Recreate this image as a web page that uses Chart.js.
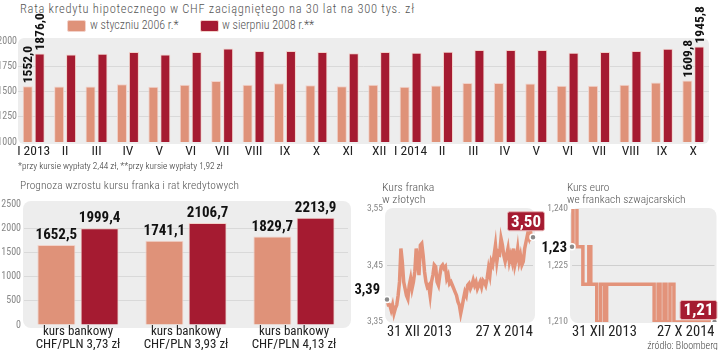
<!DOCTYPE html>
<html lang="pl">
<head>
<meta charset="UTF-8">
<title>Rata kredytu w CHF</title>
<script src="https://cdn.jsdelivr.net/npm/chart.js"></script>
<style>
  body { margin: 0; width: 720px; height: 350px; background: #fff; position: relative; overflow: hidden;
         font-family: "Roboto Condensed", "Roboto", sans-serif; font-weight: 300; }
  canvas { position: absolute; }
  .txt { position: absolute; white-space: nowrap; color: #555; line-height: 13px; }
  .leg { position: absolute; width: 17px; height: 10px; border: 1px solid #f2d2ca; border-radius: 2px; }
</style>
</head>
<body>

<div class="txt" style="left:20px; top:2px; font-size:12.5px; letter-spacing:0.7px;">Rata kredytu hipotecznego w CHF zaciągniętego na 30 lat na 300 tys. zł</div>
<div id="legenda"></div>
<canvas id="rataChart" width="720" height="162" style="left:0; top:0;"></canvas>
<div class="txt" style="left:18px; top:159px; font-size:9.3px; color:#333;">*przy kursie wypłaty 2,44 zł, **przy kursie wypłaty 1,92 zł</div>

<div class="txt" style="left:20px; top:179px; font-size:11.4px; letter-spacing:0.1px;">Prognoza wzrostu kursu franka i rat kredytowych</div>
<canvas id="prognozaChart" width="355" height="155" style="left:0; top:195px;"></canvas>

<canvas id="frankChart" width="195" height="145" style="left:350px; top:195px;"></canvas>
<div class="txt" style="left:382px; top:181px; font-size:11.8px; line-height:12px;">Kurs franka<br>w złotych</div>

<canvas id="euroChart" width="180" height="145" style="left:540px; top:195px;"></canvas>
<div class="txt" style="left:567px; top:181px; font-size:11.4px; line-height:12px;">Kurs euro<br>we frankach szwajcarskich</div>
<div class="txt" style="right:2px; top:339px; font-size:10px; color:#444;">źródło: Bloomberg</div>

<script>
    // Rata miesięczna (zł) dla kredytu zaciągniętego w dwóch momentach
    const miesiace = ['I 2013', 'II', 'III', 'IV', 'V', 'VI', 'VII', 'VIII', 'IX', 'X', 'XI', 'XII',
                      'I 2014', 'II', 'III', 'IV', 'V', 'VI', 'VII', 'VIII', 'IX', 'X'];
    const rata2006 = [1552.0, 1549, 1550, 1573, 1546, 1566, 1605, 1567, 1582, 1563, 1551,
                      1566, 1546, 1560, 1585, 1585, 1578, 1557, 1557, 1566, 1588, 1609.8];
    const rata2008 = [1876.0, 1866, 1874, 1890, 1867, 1890, 1926, 1900, 1902, 1890, 1878,
                      1892, 1884, 1893, 1910, 1911, 1910, 1884, 1890, 1900, 1924, 1945.8];
    const serie = ['w styczniu 2006 r.*', 'w sierpniu 2008 r.**'];
    const rataTicks = [1000, 1250, 1500, 1750, 2000];

    // Prognoza
    const kursy = [['kurs bankowy', 'CHF/PLN 3,73 zł'], ['kurs bankowy', 'CHF/PLN 3,93 zł'], ['kurs bankowy', 'CHF/PLN 4,13 zł']];
    const prognoza2006 = [1652.5, 1741.1, 1829.7];
    const prognoza2008 = [1999.4, 2106.7, 2213.9];

    // Kurs franka w złotych (31 XII 2013 - 27 X 2014)
    const frankDaty = ['31 XII 2013', '27 X 2014'];
    const frankTicks = [3.35, 3.45, 3.55];
    const kursFranka = [
        3.390, 3.380, 3.380, 3.371, 3.380, 3.365, 3.374, 3.380, 3.397, 3.421,
        3.480, 3.457, 3.421, 3.409, 3.397, 3.391, 3.415, 3.427, 3.409, 3.421,
        3.439, 3.480, 3.457, 3.433, 3.486, 3.489, 3.468, 3.439, 3.421, 3.412,
        3.415, 3.397, 3.421, 3.433, 3.451, 3.448, 3.421, 3.415, 3.433, 3.448,
        3.451, 3.445, 3.448, 3.427, 3.433, 3.418, 3.421, 3.415, 3.409, 3.403,
        3.397, 3.386, 3.380, 3.365, 3.377, 3.391, 3.403, 3.397, 3.415, 3.418,
        3.409, 3.415, 3.424, 3.415, 3.421, 3.409, 3.415, 3.421, 3.412, 3.424,
        3.421, 3.415, 3.427, 3.445, 3.433, 3.457, 3.451, 3.468, 3.486, 3.457,
        3.474, 3.471, 3.498, 3.486, 3.468, 3.457, 3.468, 3.480, 3.457, 3.468,
        3.457, 3.480, 3.451, 3.462, 3.480, 3.457, 3.468, 3.451, 3.457, 3.480,
        3.492, 3.504, 3.498, 3.513, 3.498, 3.500
    ];

    // Kurs euro we frankach szwajcarskich
    const euroDaty = ['31 XII 2013', '27 X 2014'];
    const euroTicks = [1.21, 1.225, 1.24];
    const kursEuro = [
        1.23, 1.25, 1.25, 1.23, 1.23, 1.23, 1.22, 1.22, 1.22, 1.23,
        1.22, 1.22, 1.22, 1.21, 1.21, 1.22, 1.22, 1.21, 1.22, 1.22,
        1.22, 1.22, 1.22, 1.22, 1.22, 1.22, 1.22, 1.22, 1.22, 1.22,
        1.22, 1.22, 1.22, 1.22, 1.22, 1.22, 1.22, 1.22, 1.22, 1.22,
        1.22, 1.22, 1.21, 1.21, 1.22, 1.21, 1.21, 1.22, 1.21, 1.21,
        1.22, 1.22, 1.21, 1.21, 1.21, 1.21, 1.21, 1.21, 1.21, 1.21,
        1.21, 1.21, 1.21, 1.21, 1.21, 1.21, 1.21, 1.21, 1.21, 1.21,
        1.21, 1.21, 1.21
    ];

    const FONT = '"Roboto Condensed", "Roboto", sans-serif';
    const JASNY = '#df9279';
    const CIEMNY = '#a51b31';
    const OBRYS = '#f2d2ca';
    Chart.defaults.font.family = FONT;
    Chart.defaults.animation = false;

    const fmt = (v, d) => v.toFixed(d).replace('.', ',');

    // legenda w HTML
    const leg = document.getElementById('legenda');
    [[67, 90, JASNY], [200, 222, CIEMNY]].forEach((p, i) => {
        leg.innerHTML += `<div class="leg" style="left:${p[0]}px; top:20px; background:${p[2]}"></div>` +
            `<div class="txt" style="left:${p[1]}px; top:18px; font-size:12px; line-height:15px;">${serie[i]}</div>`;
    });

    // szare tło pod wykresem
    const tlo = {
        id: 'tlo',
        beforeDraw(chart, args, o) {
            const a = chart.chartArea, c = chart.ctx, p = o.pad;
            c.save();
            c.fillStyle = '#ededed';
            c.beginPath();
            c.roundRect(a.left - p[3], a.top - p[0], a.width + p[1] + p[3], a.height + p[0] + p[2], o.r);
            c.fill();
            c.restore();
        }
    };

    // pionowe etykiety nad pierwszym i ostatnim miesiącem
    const pionowe = {
        id: 'pionowe',
        afterDatasetsDraw(chart) {
            const c = chart.ctx;
            chart.data.datasets.forEach((ds, i) => {
                const meta = chart.getDatasetMeta(i);
                [0, ds.data.length - 1].forEach(j => {
                    const bar = meta.data[j];
                    c.save();
                    c.translate(bar.x, bar.y - 3);
                    c.rotate(-Math.PI / 2);
                    c.font = 'bold 13.5px ' + FONT;
                    c.fillStyle = '#111';
                    c.textAlign = 'left';
                    c.textBaseline = 'middle';
                    c.fillText(fmt(ds.data[j], 1), 0, 1);
                    c.restore();
                });
            });
        }
    };

    // poziome etykiety nad słupkami prognozy
    const poziome = {
        id: 'poziome',
        afterDatasetsDraw(chart) {
            const c = chart.ctx;
            c.save();
            c.font = 'bold 15px ' + FONT;
            c.fillStyle = '#111';
            c.textAlign = 'center';
            c.textBaseline = 'bottom';
            chart.data.datasets.forEach((ds, i) => {
                chart.getDatasetMeta(i).data.forEach((bar, j) => {
                    c.fillText(fmt(ds.data[j], 1), bar.x, bar.y - 2);
                });
            });
            c.restore();
        }
    };

    // wartość początkowa i końcowa kursu
    const skrajne = {
        id: 'skrajne',
        afterDatasetsDraw(chart, args, o) {
            const c = chart.ctx;
            const ds = chart.data.datasets[0];
            const pts = chart.getDatasetMeta(0).data;
            const first = pts[0], last = pts[pts.length - 1];
            c.save();
            c.font = 'bold 14.5px ' + FONT;
            c.fillStyle = '#111';
            c.textAlign = 'right';
            c.textBaseline = 'middle';
            c.fillText(fmt(ds.data[0], 2), first.x - o.startDx, first.y + o.startDy);
            c.font = 'bold 17px ' + FONT;
            const txt = fmt(ds.data[ds.data.length - 1], 2);
            const w = c.measureText(txt).width + 7, h = 19;
            const bx = last.x + o.endDx - w / 2, by = last.y + o.endDy - h / 2;
            c.fillStyle = CIEMNY;
            c.strokeStyle = '#e8b5b5';
            c.lineWidth = 1;
            c.beginPath();
            c.roundRect(bx, by, w, h, 2);
            c.fill();
            c.stroke();
            c.fillStyle = '#fff';
            c.textAlign = 'center';
            c.fillText(txt, bx + w / 2, by + h / 2 + 1);
            c.restore();
        }
    };

    const słupki = (data, kolor) => ({
        data: data,
        backgroundColor: kolor,
        borderColor: OBRYS,
        borderWidth: 1
    });

    // Wykres 1: rata miesięczna
    new Chart(document.getElementById('rataChart'), {
        type: 'bar',
        data: {
            labels: miesiace,
            datasets: [
                Object.assign(słupki(rata2006, JASNY), { label: serie[0] }),
                Object.assign(słupki(rata2008, CIEMNY), { label: serie[1] })
            ]
        },
        options: {
            responsive: false,
            layout: { padding: { top: 41, right: 11, left: 0, bottom: 0 } },
            datasets: { bar: { categoryPercentage: 0.76, barPercentage: 0.84 } },
            scales: {
                x: {
                    afterFit: s => { s.height = 20; },
                    grid: { display: false, drawTicks: false },
                    border: { display: false },
                    ticks: { color: '#222', font: { size: 13.5, lineHeight: 1 }, padding: 3, maxRotation: 0, autoSkip: false }
                },
                y: {
                    min: 1000, max: 2000,
                    afterFit: s => { s.width = 18; },
                    afterBuildTicks: s => { s.ticks = rataTicks.map(v => ({ value: v })); },
                    grid: { color: ctx => (ctx.tick.value === 1000 || ctx.tick.value === 2000) ? 'transparent' : '#d9d9d9', drawTicks: false },
                    border: { display: false },
                    ticks: { color: '#888', font: { size: 10 }, padding: 1, callback: v => String(v) }
                }
            },
            plugins: {
                legend: { display: false },
                tooltip: { enabled: false },
                tlo: { pad: [3, 0, 2, 0], r: 6 }
            }
        },
        plugins: [tlo, pionowe]
    });

    // Wykres 2: prognoza
    new Chart(document.getElementById('prognozaChart'), {
        type: 'bar',
        data: {
            labels: kursy,
            datasets: [słupki(prognoza2006, JASNY), słupki(prognoza2008, CIEMNY)]
        },
        options: {
            responsive: false,
            layout: { padding: { top: 7, right: 7, left: 0, bottom: 0 } },
            datasets: { bar: { categoryPercentage: 0.80, barPercentage: 0.88 } },
            scales: {
                x: {
                    afterFit: s => { s.height = 25; },
                    grid: { display: false, drawTicks: false },
                    border: { display: false },
                    ticks: { color: '#222', font: { size: 13, lineHeight: 0.95 }, padding: 1, maxRotation: 0 }
                },
                y: {
                    min: 0, max: 2500,
                    afterFit: s => { s.width = 24; },
                    ticks: { stepSize: 500, color: '#888', font: { size: 10 }, padding: 3, callback: v => String(v) },
                    grid: { color: ctx => (ctx.tick.value === 0 || ctx.tick.value === 2500) ? 'transparent' : '#d9d9d9', drawTicks: false },
                    border: { display: false }
                }
            },
            plugins: {
                legend: { display: false },
                tooltip: { enabled: false },
                tlo: { pad: [3, 3, 3, 1], r: 8 }
            }
        },
        plugins: [tlo, poziome]
    });

    // wspólne ustawienia wykresów liniowych
    function kursChart(id, dane, daty, ticks, srodek, dec, pad, skr, schodki) {
        const n = dane.length;
        return new Chart(document.getElementById(id), {
            type: 'line',
            data: {
                labels: dane.map((_, i) => i === 0 ? daty[0] : (i === n - 1 ? daty[1] : '')),
                datasets: [{
                    data: dane,
                    borderColor: '#e3937a',
                    borderWidth: 3.5,
                    stepped: schodki ? 'middle' : false,
                    tension: 0,
                    pointRadius: ctx => (ctx.dataIndex === 0 || ctx.dataIndex === n - 1) ? 3 : 0,
                    pointBackgroundColor: '#8a8a8a',
                    pointBorderColor: '#fff',
                    pointBorderWidth: 1.5
                }]
            },
            options: {
                responsive: false,
                layout: { padding: pad },
                scales: {
                    x: {
                        afterFit: s => { s.height = 18; },
                        grid: { display: false, drawTicks: false },
                        border: { display: false },
                        ticks: { color: '#222', font: { size: 14.5, lineHeight: 1 }, padding: 3, maxRotation: 0, autoSkip: false, align: 'inner' }
                    },
                    y: {
                        min: ticks[0], max: ticks[ticks.length - 1],
                        afterFit: s => { s.width = pad.yw; },
                        afterBuildTicks: s => { s.ticks = ticks.map(v => ({ value: v })); },
                        ticks: { color: '#888', font: { size: 9.5 }, padding: 4, callback: v => fmt(v, dec) },
                        grid: { color: ctx => ctx.tick.value === srodek ? '#cfcfcf' : 'transparent', drawTicks: false },
                        border: { display: false }
                    }
                },
                plugins: {
                    legend: { display: false },
                    tooltip: { enabled: false },
                    tlo: { pad: [1, 2, 1, 2], r: 8 },
                    skrajne: skr
                }
            },
            plugins: [tlo, skrajne]
        });
    }

    kursChart('frankChart', kursFranka, frankDaty, frankTicks, 3.45, 2,
        { top: 14, right: 12, left: 0, bottom: 0, yw: 37 },
        { startDx: 7, startDy: -9, endDx: -7, endDy: -16 }, false);

    kursChart('euroChart', kursEuro, euroDaty, euroTicks, 1.225, 3,
        { top: 14, right: 2, left: 0, bottom: 0, yw: 32 },
        { startDx: 5, startDy: 2, endDx: -16, endDy: -12 }, true);
</script>

</body>
</html>
